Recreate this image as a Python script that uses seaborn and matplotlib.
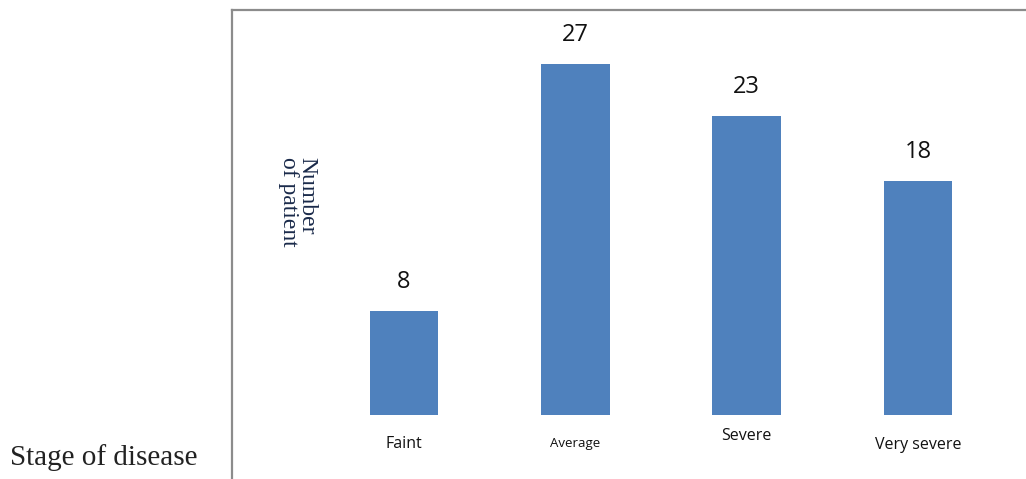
import matplotlib
matplotlib.use("Agg")
import matplotlib.pyplot as plt
import seaborn as sns
import pandas as pd

# data
stages = ["Faint", "Average", "Severe", "Very severe"]
patients = [8, 27, 23, 18]


def barChart():
    sns.set_theme(style="white")
    plt.rcParams["font.family"] = ["Open Sans", "DejaVu Sans"]
    df = pd.DataFrame({"stage": stages, "patients": patients})

    fig = plt.figure(figsize=(10.26, 4.79), dpi=100)
    ax = fig.add_axes([232 / 1026, 0, 794 / 1026, 469 / 479])
    sns.barplot(data=df, x="stage", y="patients", color="#4F81BD",
                saturation=1, width=0.4, linewidth=0, ax=ax)

    ax.set_xlim(-1.004, 3.63)
    ax.set_ylim(-4.92, 31.15)
    ax.set_xticks([])
    ax.set_yticks([])
    ax.set_xlabel("")
    ax.set_ylabel("")
    for side in ["right", "bottom"]:
        ax.spines[side].set_visible(False)
    for side in ["left", "top"]:
        ax.spines[side].set_color("#8c8c8c")
        ax.spines[side].set_linewidth(1.6)

    # value labels above bars
    for i, v in enumerate(patients):
        ax.annotate(str(v), (i, v), xytext=(0, 12), textcoords="offset points",
                    ha="center", va="bottom", fontsize=17, color="#111111")

    # category labels sit at slightly uneven heights in the original
    label_y = [-2.2, -2.2, -1.6, -2.3]
    label_size = [11.5, 9.5, 11.5, 11.5]
    for i, name in enumerate(stages):
        ax.text(i, label_y[i], name, ha="center", va="center",
                fontsize=label_size[i], color="#111111")

    fig.text(10 / 1026, 1 - 458 / 479, "Stage of disease", ha="left",
             va="center", fontsize=21, family="Liberation Serif",
             color="#222222")
    fig.text(298 / 1026, 1 - 202 / 479, "Number\nof patient", rotation=-90,
             ha="center", va="center", fontsize=17, family="Liberation Serif",
             color="#1a2a4a", linespacing=0.85, multialignment="left")

    fig.savefig("out.png", dpi=100)


def main():
    barChart()


if (__name__ == "__main__"):
    main()
